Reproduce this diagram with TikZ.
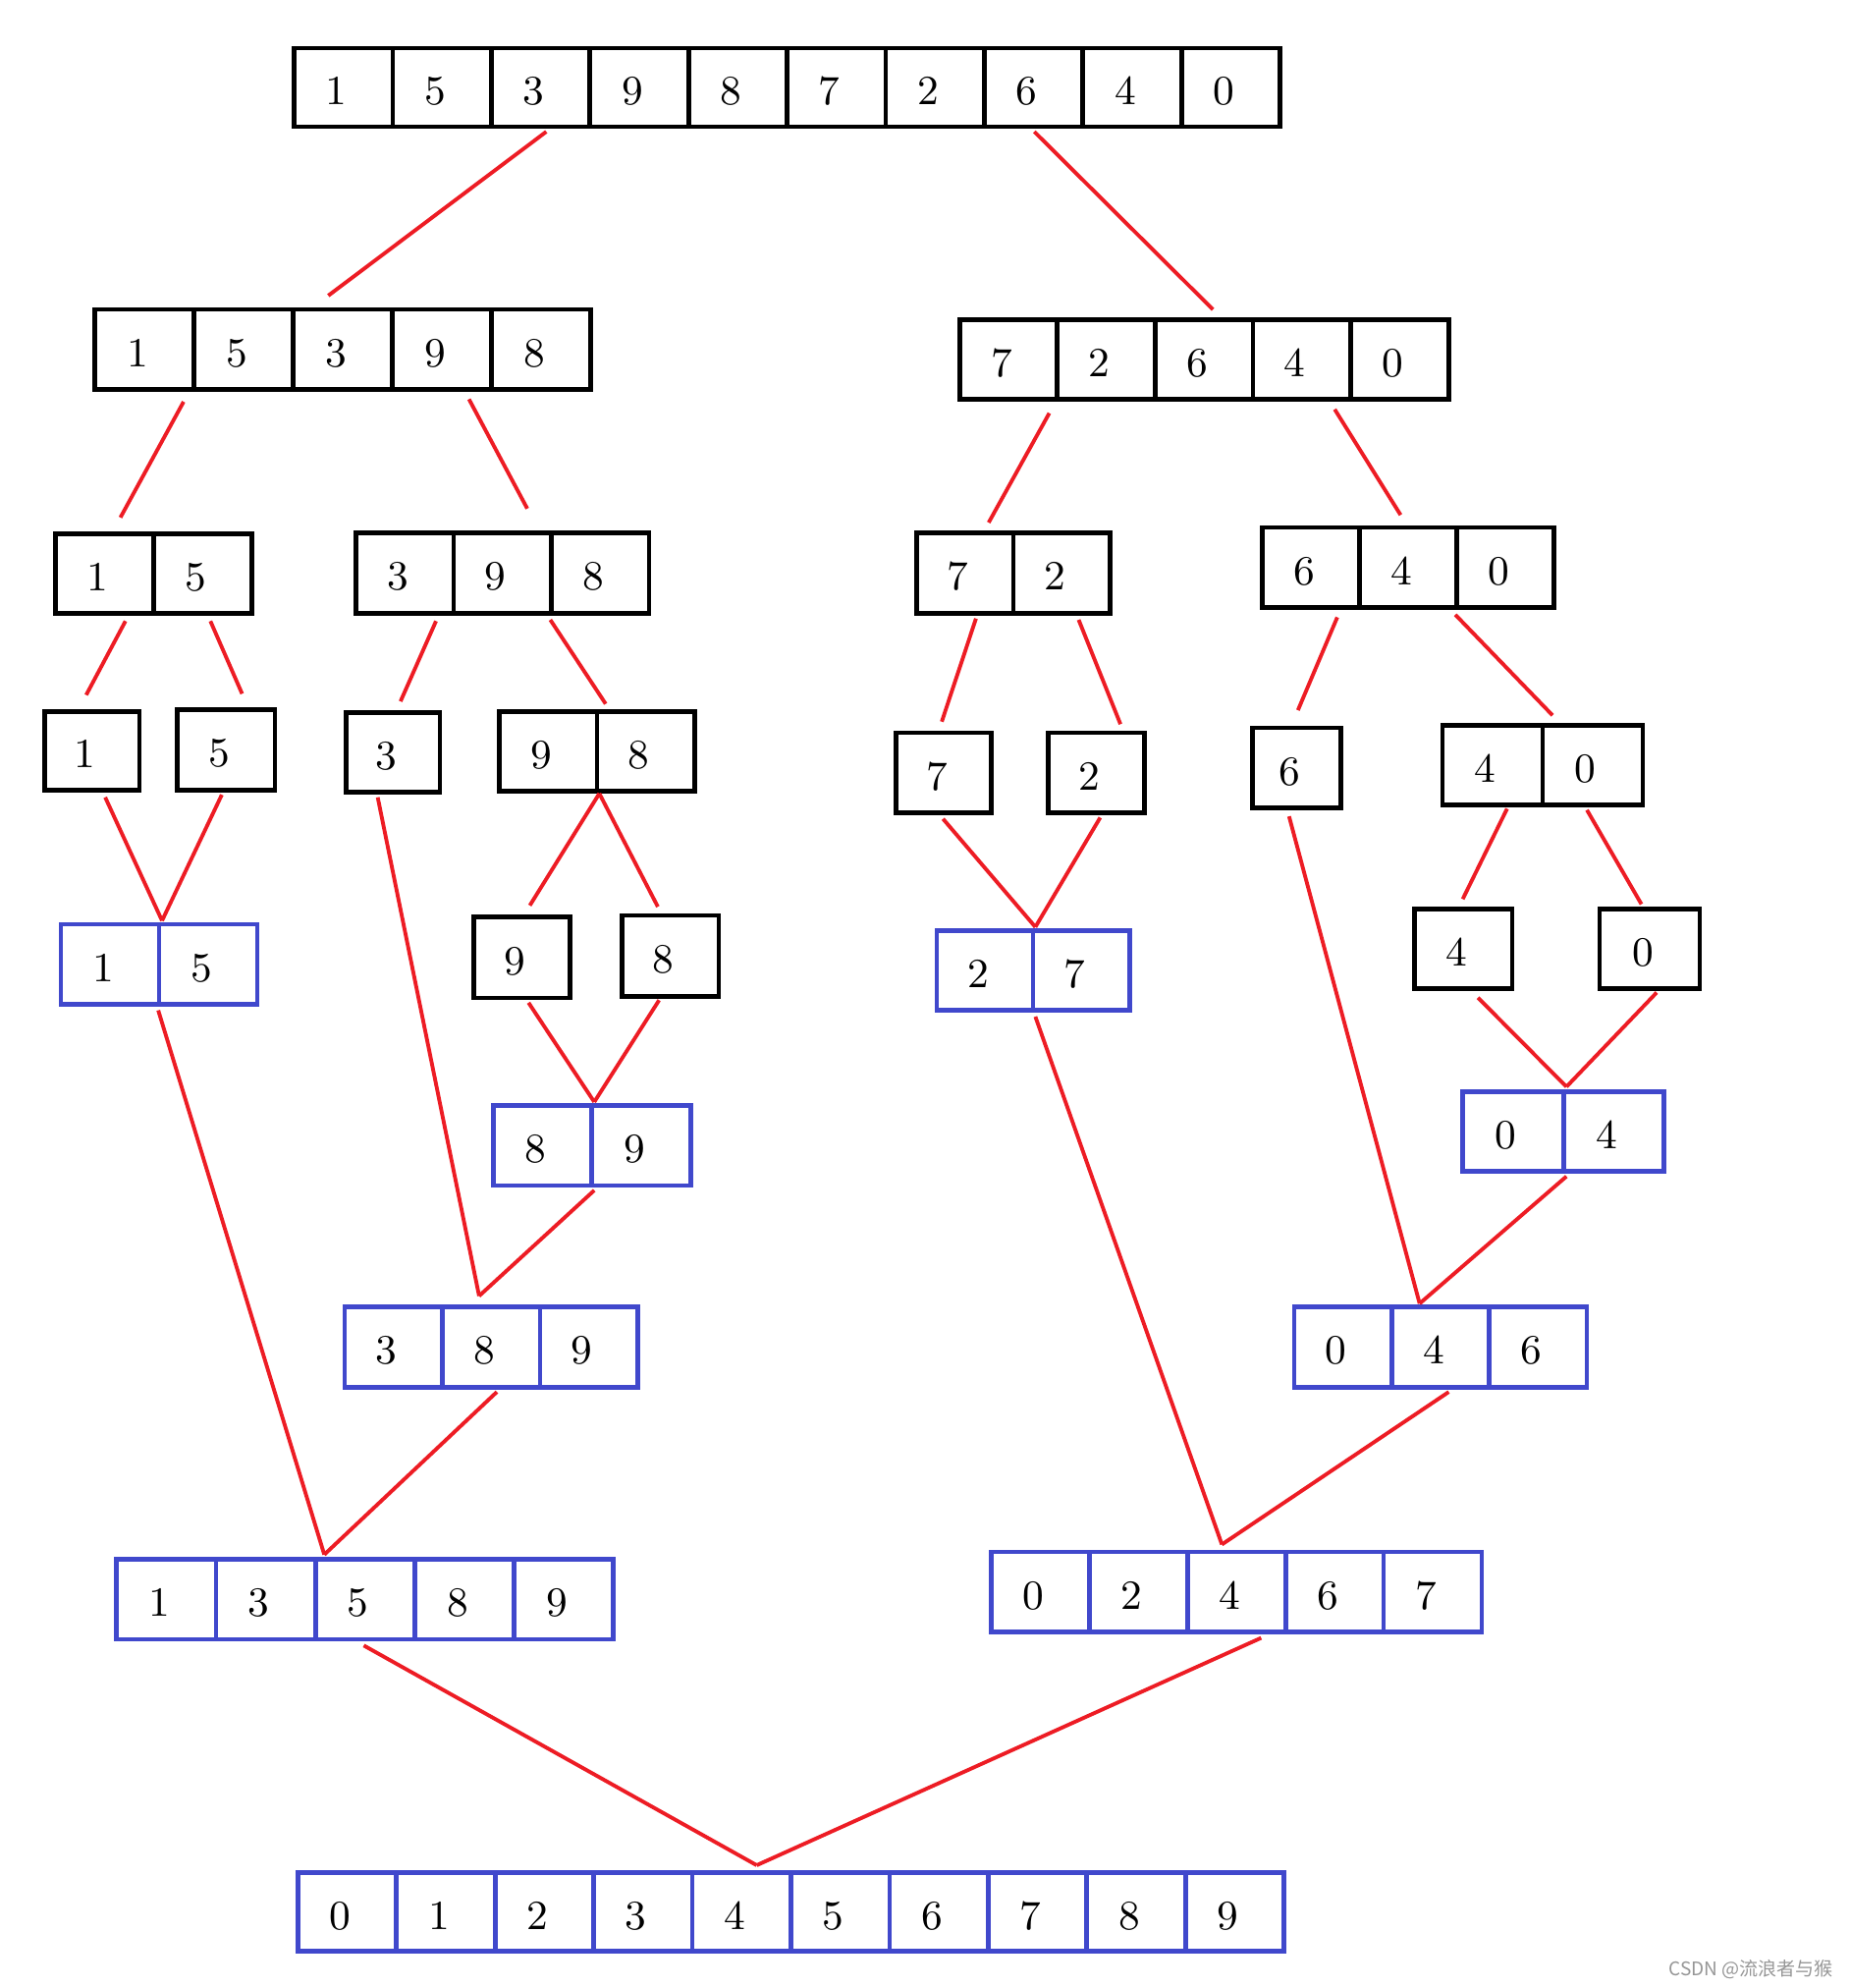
\documentclass[tikz,border=0pt]{standalone}
\usepackage{fontspec}
\newfontfamily\cjkwm{Noto Sans CJK SC}
\usetikzlibrary{calc}
\definecolor{boxblue}{RGB}{64,72,204}
\definecolor{linkred}{RGB}{237,28,36}
\definecolor{markgray}{RGB}{150,150,150}
% name, n, x0, y0, x1, y1, style, values
\newcommand\cellrow[8]{%
  \pgfmathsetmacro\cellw{(#5-#3)/#2}%
  \pgfmathsetmacro\cellh{#6-#4}%
  \foreach \v [count=\i] in {#8}{%
    \node[cell,#7,minimum width=\cellw*0.01cm,minimum height=\cellh*0.01cm] (#1-\i) at ({#3+(\i-0.5)*\cellw},{(#4+#6)/2}) {\hspace*{-0.11cm}\v};
  }%
}
\begin{document}
\begin{tikzpicture}[x=0.01cm,y=-0.01cm,
  cell/.style={draw,inner sep=0pt,line width=1.05pt,text height=0.27cm,text depth=0pt,font=\fontsize{9.3}{11}\selectfont},
  blk/.style={draw=black},
  blu/.style={draw=boxblue},
  link/.style={draw=linkred,line width=0.85pt}]
\useasboundingbox (0,0) rectangle (1459,1568);

\cellrow{T}{10}{232}{38}{1010}{100}{blk}{1,5,3,9,8,7,2,6,4,0}
\cellrow{L1}{5}{75}{244}{466}{307}{blk}{1,5,3,9,8}
\cellrow{R1}{5}{757}{252}{1143}{315}{blk}{7,2,6,4,0}
\cellrow{a}{2}{44}{421}{199}{484}{blk}{1,5}
\cellrow{b}{3}{281}{420}{512}{484}{blk}{3,9,8}
\cellrow{c}{2}{723}{420}{876}{484}{blk}{7,2}
\cellrow{d}{3}{996}{416}{1226}{479}{blk}{6,4,0}
\cellrow{e}{1}{35}{561}{110}{623}{blk}{1}
\cellrow{ee}{1}{140}{560}{217}{623}{blk}{5}
\cellrow{f}{1}{273}{562}{347}{625}{blk}{3}
\cellrow{g}{2}{394}{561}{548}{624}{blk}{9,8}
\cellrow{h}{1}{707}{578}{782}{641}{blk}{7}
\cellrow{i}{1}{827}{578}{903}{641}{blk}{2}
\cellrow{j}{1}{988}{574}{1058}{637}{blk}{6}
\cellrow{k}{2}{1138}{572}{1296}{635}{blk}{4,0}
\cellrow{m}{2}{48}{729}{203}{792}{blu}{1,5}
\cellrow{na}{1}{374}{723}{450}{787}{blk}{9}
\cellrow{nb}{1}{491}{722}{567}{786}{blk}{8}
\cellrow{p}{2}{739}{734}{891}{797}{blu}{2,7}
\cellrow{qa}{1}{1116}{717}{1193}{780}{blk}{4}
\cellrow{qb}{1}{1262}{717}{1341}{780}{blk}{0}
\cellrow{s}{2}{389}{872}{545}{935}{blu}{8,9}
\cellrow{t}{2}{1154}{861}{1313}{924}{blu}{0,4}
\cellrow{u}{3}{272}{1031}{503}{1094}{blu}{3,8,9}
\cellrow{v}{3}{1021}{1031}{1252}{1094}{blu}{0,4,6}
\cellrow{w}{5}{92}{1230}{484}{1293}{blu}{1,3,5,8,9}
\cellrow{xx}{5}{782}{1224}{1169}{1287}{blu}{0,2,4,6,7}
\cellrow{z}{10}{235}{1477}{1013}{1539}{blu}{0,1,2,3,4,5,6,7,8,9}

% junction points
\coordinate (jm) at ($(m-1.north east)+(0.5,-1)$);
\coordinate (js) at ($(s-1.north east)+(0,-1)$);
\coordinate (jg) at (g-1.south east);
\coordinate (jp) at ($(p-1.north east)+(0,-1)$);
\coordinate (jt) at ($(t-1.north east)+(0.5,-2)$);
\coordinate (ju) at ($(u-2.north)+(-9.5,-7)$);
\coordinate (jv) at ($(v-2.north)+(-16.5,-1)$);
\coordinate (jw) at ($(w-2.north east)+(5.2,-2)$);
\coordinate (jx) at ($(xx-3.north)+(-11.5,-4)$);
\coordinate (jz) at ($(z-5.north)+(11.9,-4)$);

% splitting
\draw[link] ($(T-3.south)+(4.5,2)$) -- ($(L1-3.north)+(-11.5,-9)$);
\draw[link] ($(T-8.south)+(0.5,2)$) -- ($(R1-3.north)+(7,-6)$);
\draw[link] ($(L1-1.south east)+(-10.2,8)$) -- ($(a-1.north)+(12.25,-11)$);
\draw[link] ($(L1-4.south)+(21.3,6)$) -- ($(b-2.north)+(19.5,-17)$);
\draw[link] ($(R1-1.south east)+(-8.2,9)$) -- ($(c-1.north)+(18.75,-6)$);
\draw[link] ($(R1-4.south)+(25.8,6)$) -- ($(d-2.north)+(-6,-8)$);
\draw[link] ($(a-1.south)+(16.25,4)$) -- ($(e-1.north)+(-4.5,-11)$);
\draw[link] ($(a-2.south)+(5.75,4)$) -- ($(ee-1.north)+(12.5,-11)$);
\draw[link] ($(b-1.south)+(24.5,4)$) -- ($(f-1.north)+(6,-7)$);
\draw[link] ($(b-3.south west)+(1,3)$) -- ($(g-1.north east)+(5,-4)$);
\draw[link] ($(c-1.south)+(8.75,2)$) -- ($(h-1.north)+(-1.5,-7)$);
\draw[link] ($(c-2.south)+(13.25,3)$) -- ($(i-1.north)+(19,-5)$);
\draw[link] ($(d-1.south)+(20.7,6)$) -- ($(j-1.north)+(1,-12)$);
\draw[link] ($(d-3.south west)+(0.7,4)$) -- ($(k-1.north east)+(6,-6)$);
\draw[link] (jg) -- ($(na-1.north)+(6,-7)$);
\draw[link] (jg) -- ($(nb-1.north)+(-10,-5)$);
\draw[link] ($(k-1.south)+(11.5,1)$) -- ($(qa-1.north)+(-0.5,-6)$);
\draw[link] ($(k-2.south)+(-4.5,2)$) -- ($(qb-1.north)+(-6.5,-2)$);

% merging
\draw[link] ($(e-1.south)+(10.5,4)$) -- (jm);
\draw[link] ($(ee-1.south)+(-3.5,2)$) -- (jm);
\draw[link] ($(na-1.south)+(5,2)$) -- (js);
\draw[link] ($(nb-1.south)+(-9,1)$) -- (js);
\draw[link] ($(h-1.south)+(-0.5,3)$) -- (jp);
\draw[link] ($(i-1.south)+(3,2)$) -- (jp);
\draw[link] ($(qa-1.south)+(11.5,5)$) -- (jt);
\draw[link] ($(qb-1.south)+(5.5,1)$) -- (jt);
\draw[link] ($(f-1.south)+(-12,2)$) -- (ju);
\draw[link] ($(s-1.south east)+(0,2)$) -- (ju);
\draw[link] ($(j-1.south)+(-6,5)$) -- (jv);
\draw[link] ($(t-1.south east)+(0.5,2)$) -- (jv);
\draw[link] ($(m-1.south east)+(-2.5,3)$) -- (jw);
\draw[link] ($(u-2.south)+(4.5,2)$) -- (jw);
\draw[link] ($(p-1.south east)+(0,3)$) -- (jx);
\draw[link] ($(v-2.south)+(6.5,2)$) -- (jx);
\draw[link] ($(w-3.south)+(-1,3)$) -- (jz);
\draw[link] ($(xx-3.south)+(19.5,3)$) -- (jz);

\node[anchor=east,text=markgray,font=\cjkwm\fontsize{4.2}{5}\selectfont,inner sep=0pt] (wm) at (1447,1553) {CSDN @流浪者与猴};
\end{tikzpicture}
\end{document}
